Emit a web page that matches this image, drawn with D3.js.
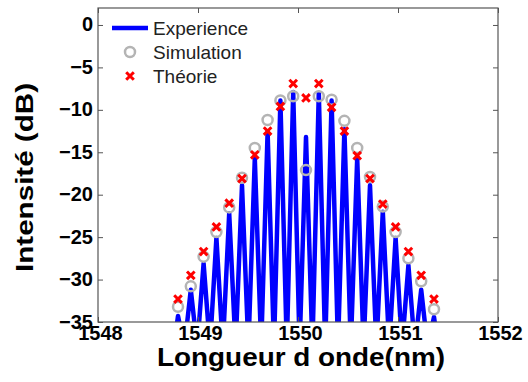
<!DOCTYPE html>
<html>
<head>
<meta charset="utf-8">
<script src="https://cdn.jsdelivr.net/npm/d3@7"></script>
<style>
  html, body { margin: 0; padding: 0; background: #fff; }
  svg { display: block; }
  text { font-family: "Liberation Sans", Arial, Helvetica, sans-serif; }
</style>
</head>
<body>
<svg id="chart" width="528" height="382"></svg>
<script>
// ---- data ----
const peakWavelength = [1548.800, 1548.928, 1549.056, 1549.184, 1549.312, 1549.440, 1549.568,
  1549.696, 1549.824, 1549.952, 1550.080, 1550.208, 1550.336, 1550.464, 1550.592, 1550.720,
  1550.848, 1550.976, 1551.104, 1551.232, 1551.360];
const experience = [-34.3, -31.2, -28.1, -25.1, -22.2, -18.9, -15.7, -12.6, -8.9, -7.9, -13.2,
  -8.0, -8.9, -12.3, -15.7, -18.9, -22.0, -25.1, -28.3, -31.2, -34.4];
const valleyWavelength = [1548.736, 1548.864, 1548.992, 1549.120, 1549.248, 1549.376, 1549.504,
  1549.632, 1549.760, 1549.888, 1550.016, 1550.144, 1550.272, 1550.400, 1550.528, 1550.656,
  1550.784, 1550.912, 1551.040, 1551.168, 1551.296, 1551.424];
const valleyLevel = [-40, -38, -38, -38, -38, -38, -38, -38, -38, -38, -38, -38, -38, -38, -38,
  -38, -38, -38, -38, -38, -38, -40];
const simulation = [-33.2, -30.8, -27.3, -24.4, -21.5, -18.0, -14.5, -11.2, -8.9, -8.4, -17.1,
  -8.4, -8.8, -11.3, -14.5, -17.9, -21.4, -24.4, -27.5, -30.2, -33.5];
const theorie = [-32.3, -29.5, -26.7, -23.8, -21.0, -18.1, -15.3, -12.5, -9.6, -6.9, -8.6,
  -6.9, -9.7, -12.5, -15.4, -18.1, -21.1, -23.8, -26.7, -29.5, -32.3];
const xTicks = [1548, 1549, 1550, 1551, 1552];
const yTicks = [0, -5, -10, -15, -20, -25, -30, -35];
const legendLabels = ["Experience", "Simulation", "Théorie"];
const xTitle = "Longueur d onde(nm)";
const yTitle = "Intensité (dB)";

// ---- layout ----
const L = 98, R = 498, T = 8, B = 322;
const svg = d3.select("#chart");
const x = d3.scaleLinear().domain([1548, 1552]).range([L, R]);
const y = d3.scaleLinear().domain([-35, 2]).range([B, T]);

// experience trace: valley, peak, valley, ...
const trace = [];
for (let i = 0; i < peakWavelength.length; i++) {
  trace.push([valleyWavelength[i], valleyLevel[i]]);
  trace.push([peakWavelength[i], experience[i]]);
}
trace.push([valleyWavelength[valleyWavelength.length - 1], valleyLevel[valleyLevel.length - 1]]);

svg.append("defs").append("clipPath").attr("id", "clip")
  .append("rect").attr("x", L).attr("y", T).attr("width", R - L).attr("height", B - T);

const plot = svg.append("g").attr("clip-path", "url(#clip)");
plot.append("path")
  .datum(trace)
  .attr("d", d3.line().x(d => x(d[0])).y(d => y(d[1])))
  .attr("fill", "none")
  .attr("stroke", "#0000ff")
  .attr("stroke-width", 4.5)
  .attr("stroke-linejoin", "round");

plot.selectAll("circle.sim")
  .data(simulation)
  .enter().append("circle")
  .attr("class", "sim")
  .attr("cx", (d, i) => x(peakWavelength[i]))
  .attr("cy", d => y(d))
  .attr("r", 5)
  .attr("fill", "none")
  .attr("stroke", "#b4b4b4")
  .attr("stroke-width", 2.5);

const xs = 3.8;
function cross(g, cx, cy) {
  g.append("path")
    .attr("d", `M${cx - xs},${cy - xs}L${cx + xs},${cy + xs}M${cx - xs},${cy + xs}L${cx + xs},${cy - xs}`)
    .attr("stroke", "#ff0000")
    .attr("stroke-width", 3)
    .attr("fill", "none");
}
theorie.forEach((d, i) => cross(plot, x(peakWavelength[i]), y(d)));

// ---- axes frame ----
const axisColor = "#555";
const gBottom = svg.append("g").attr("transform", `translate(0,${B})`)
  .call(d3.axisBottom(x).tickValues(xTicks).tickSize(-5).tickPadding(5).tickFormat(d3.format("d")));
const gTop = svg.append("g").attr("transform", `translate(0,${T})`)
  .call(d3.axisTop(x).tickValues(xTicks).tickSize(-5).tickFormat(""));
const gLeft = svg.append("g").attr("transform", `translate(${L},0)`)
  .call(d3.axisLeft(y).tickValues(yTicks).tickSize(-5).tickPadding(5)
    .tickFormat(d => d < 0 ? "\u2212" + Math.abs(d) : d));
const gRight = svg.append("g").attr("transform", `translate(${R},0)`)
  .call(d3.axisRight(y).tickValues(yTicks).tickSize(-5).tickFormat(""));

[gBottom, gTop, gLeft, gRight].forEach(g => {
  g.select(".domain").remove();
  g.selectAll(".tick line").attr("stroke", axisColor);
  g.selectAll(".tick text")
    .attr("fill", "#000")
    .style("font-family", '"Liberation Sans", Arial, sans-serif')
    .style("font-size", "20px")
    .style("font-weight", "bold");
});
svg.append("rect").attr("x", L).attr("y", T).attr("width", R - L).attr("height", B - T)
  .attr("fill", "none").attr("stroke", axisColor).attr("stroke-width", 1.2);
gLeft.selectAll(".tick text").attr("x", -5).attr("dy", "0.3em");
gBottom.selectAll(".tick text").attr("y", 17.5).attr("dy", "0").attr("dx", 2);

// ---- titles ----
svg.append("text")
  .attr("x", 301)
  .attr("y", 366)
  .attr("text-anchor", "middle")
  .attr("textLength", 288)
  .attr("lengthAdjust", "spacingAndGlyphs")
  .style("font-size", "25px")
  .style("font-weight", "bold")
  .text(xTitle);

svg.append("text")
  .attr("transform", `translate(33,177.5) rotate(-90)`)
  .attr("text-anchor", "middle")
  .attr("textLength", 189)
  .attr("lengthAdjust", "spacingAndGlyphs")
  .style("font-size", "23px")
  .style("font-weight", "bold")
  .text(yTitle);

// ---- legend ----
const lg = svg.append("g");
const rowY = [28, 52, 76];
lg.append("line").attr("x1", 112).attr("x2", 148).attr("y1", rowY[0]).attr("y2", rowY[0])
  .attr("stroke", "#0000ff").attr("stroke-width", 4.5);
lg.append("circle").attr("cx", 130).attr("cy", rowY[1]).attr("r", 5)
  .attr("fill", "none").attr("stroke", "#b4b4b4").attr("stroke-width", 2.5);
cross(lg, 130, rowY[2]);
legendLabels.forEach((t, i) => {
  lg.append("text").attr("x", 153).attr("y", rowY[i]).attr("dy", "0.36em")
    .style("font-size", "19px").attr("fill", "#222").text(t);
});
</script>
</body>
</html>
